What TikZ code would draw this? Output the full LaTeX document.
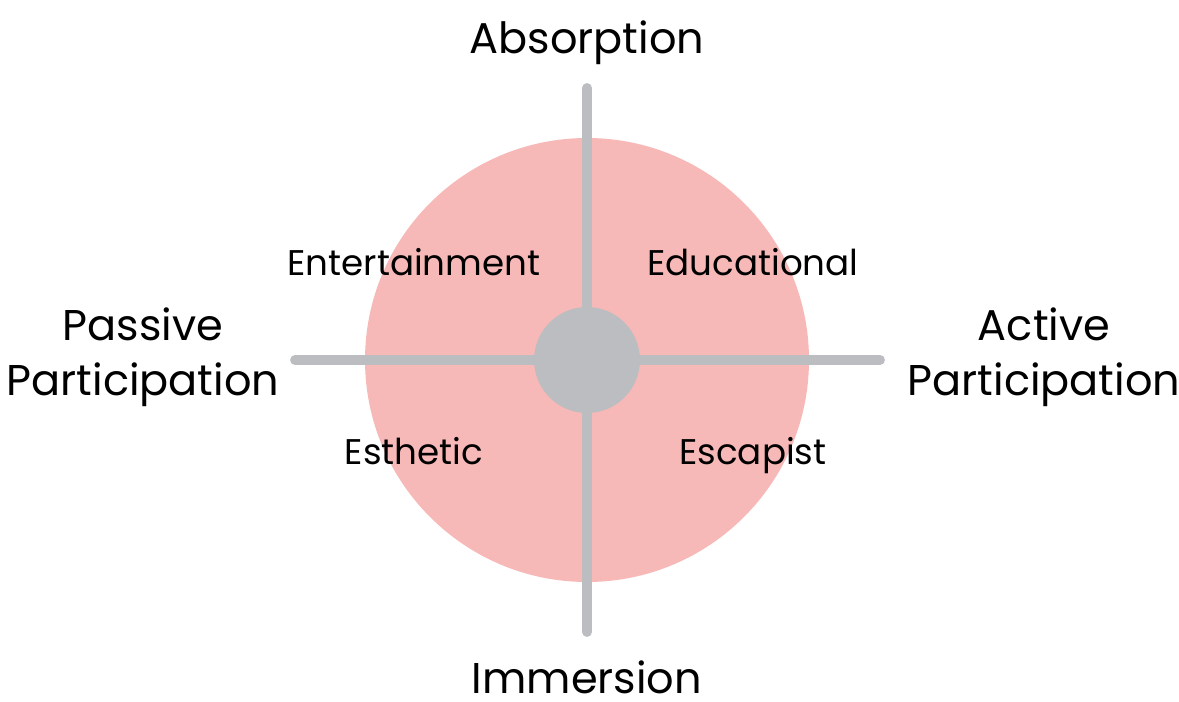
\documentclass[tikz,border=0pt]{standalone}
\usepackage{fontspec}
\setmainfont{Poppins}
\usetikzlibrary{positioning}
\definecolor{ring}{HTML}{F7B9B7}
\definecolor{axis}{HTML}{BCBDC0}

\begin{document}
\begin{tikzpicture}[
    x=0.02cm, y=-0.02cm,
    axlab/.style={font=\fontsize{24.5}{31}\selectfont, text=black, align=center},
    qlab/.style={font=\fontsize{20.3}{24}\selectfont, text=black, anchor=base},
    axline/.style={draw=axis, line width=5.6pt, line cap=round},
]
\useasboundingbox (0,0) rectangle (1179,702);

\fill[ring] (587,360) circle (222);

\coordinate (top) at (587,88);
\coordinate (bottom) at (587,632);
\coordinate (left) at (295,360);
\coordinate (right) at (880,360);

\draw[axline] (top) -- (bottom);
\draw[axline] (left) -- (right);
\node[circle, fill=axis, minimum size=106*0.02cm, inner sep=0pt] (hub) at (587,360) {};

\node[axlab, anchor=base] (absorb) at (587,54) {Absorption};
\node[axlab, anchor=base, inner sep=0pt] (immerse) at (587,693) {Immersion};
\node[axlab] (passive) at (143,357) {Passive\\Participation};
\node[axlab] (active) at (1044,357) {Active\\Participation};

\node[qlab] (entert) at (414,276) {Entertainment};
\node[qlab] (educ) at (753,276) {Educational};
\node[qlab] (esth) at (414,464) {Esthetic};
\node[qlab] (escap) at (753,464) {Escapist};

\end{tikzpicture}
\end{document}
